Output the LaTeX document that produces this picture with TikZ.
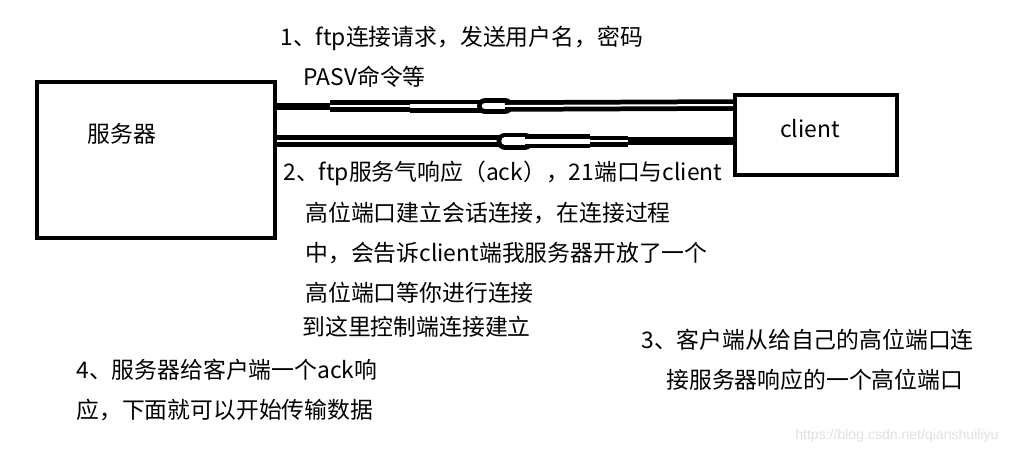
\documentclass[tikz,border=0pt]{standalone}
\usepackage{fontspec}
\setmainfont{Noto Sans CJK SC}
\newfontfamily\urlfont{Liberation Sans}

\begin{document}
\begin{tikzpicture}[x=0.02cm,y=-0.02cm,
    box/.style={draw,line width=0.08cm,inner sep=0pt},
    txt/.style={anchor=west,inner sep=0pt,font=\fontsize{13}{16}\selectfont},
    bar/.style={line width=#1},
    dbl/.style={double,line width=0.095cm,double distance=#1}]
    \useasboundingbox (0,0) rectangle (1035,454);
    % the two boxes
    \node[box,minimum width=4.76cm,minimum height=3.12cm] (srv) at (156,160) {};
    \node[box,minimum width=3.24cm,minimum height=1.6cm] (clt) at (816,135) {};
    \node[txt,anchor=center] (srvname) at (122,134) {服务器};
    \node[txt,anchor=center] (cltname) at (810,129) {client};
    % upper line, server to client
    \coordinate (u0) at (srv.east |- 0,106);
    \coordinate (u1) at (330,106);
    \coordinate (u2) at (410,106);
    \coordinate (u3) at (485,106);
    \coordinate (u4) at (505,106);
    \coordinate (u5) at (clt.west |- 0,105);
    \draw[bar=0.14cm] (u0)--(u1);
    \draw[dbl=0.04cm] (u1)--(u2);
    \draw[dbl=0.07cm] (u2)--(u3);
    \draw[dbl=0.13cm,line cap=round] (u3)--(u4);
    \draw[dbl=0.04cm] (u4)--(u5);
    % lower line, client to server
    \coordinate (l0) at (srv.east |- 0,141);
    \coordinate (l1) at (505,141);
    \coordinate (l2) at (525,141);
    \coordinate (l3) at (590,141);
    \coordinate (l4) at (628,141);
    \coordinate (l5) at (clt.west |- 0,141);
    \draw[dbl=0.05cm] (l0)--(l1);
    \draw[dbl=0.15cm,line cap=round] (l1)--(l2);
    \draw[dbl=0.1cm] (l2)--(l3);
    \draw[dbl=0.03cm] (l3)--(l4);
    \draw[bar=0.16cm] (l4)--(l5);
    % step texts
    \node[txt] (s1a) at (280,38) {1、ftp连接请求，发送用户名，密码};
    \node[txt] (s1b) at (303,77) {PASV命令等};
    \node[txt] (s2a) at (283,173) {2、ftp服务气响应（ack），21端口与client};
    \node[txt] (s2b) at (305,213) {高位端口建立会话连接，在连接过程};
    \node[txt] (s2c) at (305,253) {中，会告诉client端我服务器开放了一个};
    \node[txt] (s2d) at (305,293) {高位端口等你进行连接};
    \node[txt] (s2e) at (302,327) {到这里控制端连接建立};
    \node[txt] (s3a) at (641,340) {3、客户端从给自己的高位端口连};
    \node[txt] (s3b) at (666,380) {接服务器响应的一个高位端口};
    \node[txt] (s4a) at (76,370) {4、服务器给客户端一个ack响};
    \node[txt] (s4b) at (76,410) {应，下面就可以开始传输数据};
    \node[anchor=west,inner sep=0pt,text=black!12,font=\urlfont\fontsize{8}{9}\selectfont] (mark) at (795,436) {https://blog.csdn.net/qianshuiliyu};
\end{tikzpicture}
\end{document}
